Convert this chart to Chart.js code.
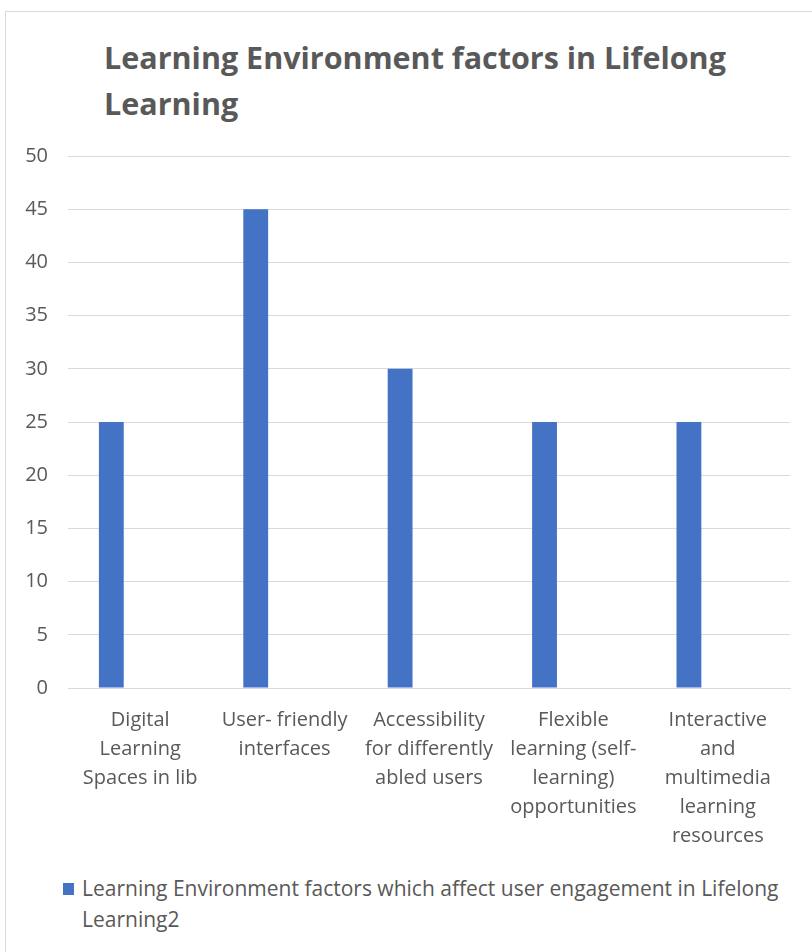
<!DOCTYPE html>
<html>
<head>
<meta charset="utf-8">
<script src="https://cdn.jsdelivr.net/npm/chart.js@4"></script>
<style>
    html, body { margin: 0; padding: 0; background: #fff; }
    body { width: 812px; height: 952px; position: relative; overflow: hidden; font-family: "Open Sans", sans-serif; }
    #frame { position: absolute; left: 5px; top: 11px; width: 812px; height: 950px; border: 1px solid #d9d9d9; box-sizing: border-box; }
    #title { position: absolute; left: 104px; top: 34px; color: #595959; font-weight: bold; font-size: 30.5px; line-height: 46px; white-space: nowrap; }
    #chartBox { position: absolute; left: 0; top: 124px; width: 812px; height: 734px; }
    #legend { position: absolute; left: 63px; top: 873px; color: #595959; font-size: 21px; line-height: 31px; white-space: nowrap; }
    #legend .swatch { position: absolute; left: 0; top: 10px; width: 11px; height: 12px; background: #4472C4; }
    #legend .text { margin-left: 19px; }
</style>
</head>
<body>
<div id="frame"></div>
<div id="title">Learning Environment factors in Lifelong<br>Learning</div>
<div id="chartBox"><canvas id="barChart"></canvas></div>
<div id="legend">
    <span class="swatch"></span>
    <div class="text">Learning Environment factors which affect user engagement in Lifelong<br>Learning2</div>
</div>
<script>
// catégories (une ligne par élément du tableau)
const categories = [
    ['Digital', 'Learning', 'Spaces in lib'],
    ['User- friendly', 'interfaces'],
    ['Accessibility', 'for differently', 'abled users'],
    ['Flexible', 'learning (self-', 'learning)', 'opportunities'],
    ['Interactive', 'and', 'multimedia', 'learning', 'resources']
];
const seriesName = 'Learning Environment factors which affect user engagement in Lifelong Learning2';
const seriesValues = [25, 45, 30, 25, 25];
// série vide qui réserve la place à droite de chaque barre
const emptySeries = [null, null, null, null, null];
const yTicks = [0, 5, 10, 15, 20, 25, 30, 35, 40, 45, 50];

const ctx = document.getElementById('barChart').getContext('2d');
new Chart(ctx, {
    type: 'bar',
    data: {
        labels: categories,
        datasets: [{
            label: seriesName,
            data: seriesValues,
            backgroundColor: '#4472C4',
            categoryPercentage: 0.8,
            barPercentage: 0.43
        }, {
            label: '',
            data: emptySeries,
            backgroundColor: '#ED7D31',
            categoryPercentage: 0.8,
            barPercentage: 0.43
        }]
    },
    options: {
        responsive: true,
        maintainAspectRatio: false,
        animation: false,
        layout: { padding: { top: 16, right: 22, left: 0, bottom: 0 } },
        plugins: {
            legend: { display: false },
            tooltip: { enabled: false }
        },
        scales: {
            x: {
                grid: { display: false, drawTicks: false },
                border: { display: true, color: '#d9d9d9', width: 1 },
                ticks: {
                    color: '#595959',
                    font: { family: 'Open Sans', size: 20, lineHeight: 1.45 },
                    padding: 18,
                    maxRotation: 0,
                    autoSkip: false
                },
                afterFit: function(scale) { scale.height = 170; }
            },
            y: {
                min: 0,
                max: 50,
                afterBuildTicks: function(scale) {
                    scale.ticks = yTicks.map(v => ({ value: v }));
                },
                grid: { color: '#d9d9d9', drawTicks: false },
                border: { display: false },
                ticks: {
                    color: '#595959',
                    font: { family: 'Open Sans', size: 20 },
                    padding: 20
                },
                afterFit: function(scale) { scale.width = 68; }
            }
        }
    }
});
</script>
</body>
</html>
